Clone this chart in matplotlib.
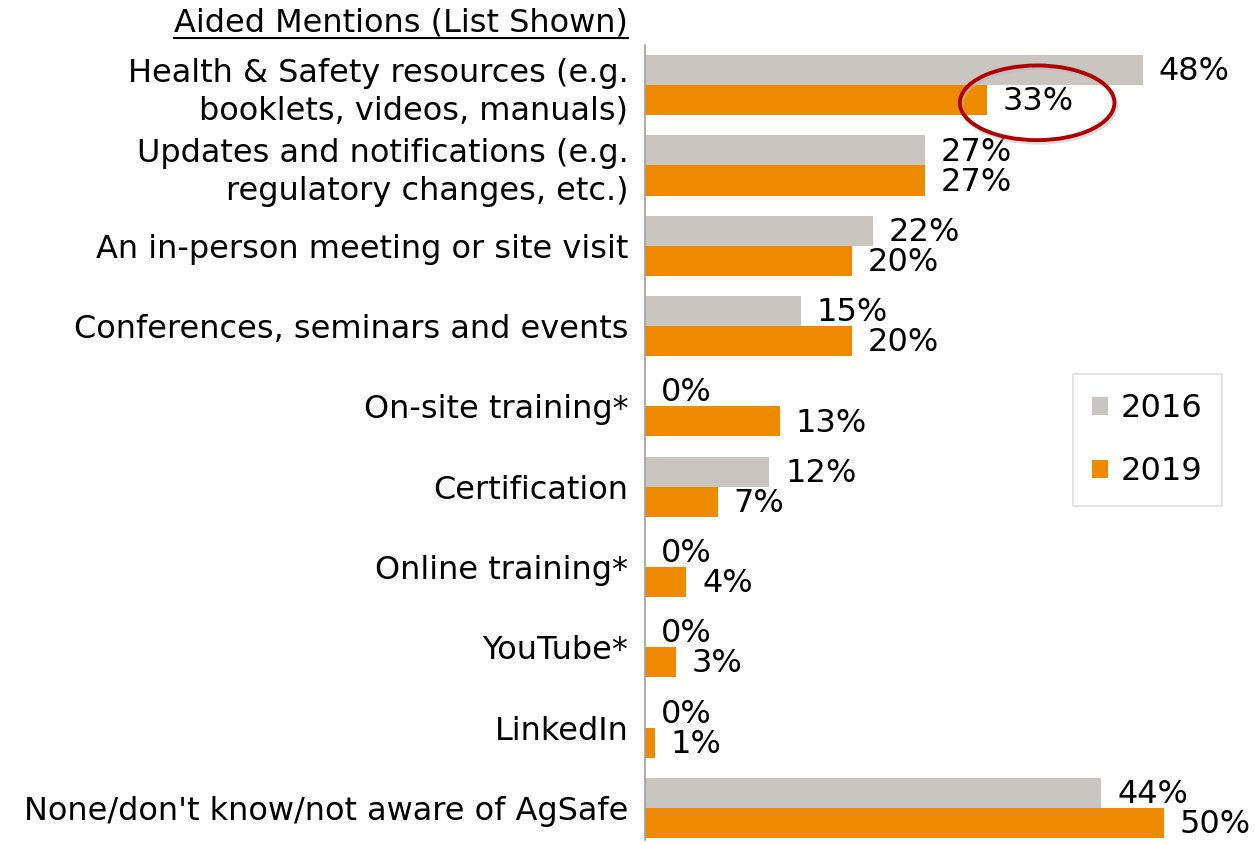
import numpy as np
import matplotlib.pyplot as plt
from matplotlib.patches import Ellipse
from matplotlib.lines import Line2D

plt.rcParams['font.family'] = ['DejaVu Sans']

# data
categories = [
    "Health & Safety resources (e.g.\nbooklets, videos, manuals)",
    "Updates and notifications (e.g.\nregulatory changes, etc.)",
    "An in-person meeting or site visit",
    "Conferences, seminars and events",
    "On-site training*",
    "Certification",
    "Online training*",
    "YouTube*",
    "LinkedIn",
    "None/don't know/not aware of AgSafe",
]
values_2016 = [48, 27, 22, 15, 0, 12, 0, 0, 0, 44]
values_2019 = [33, 27, 20, 20, 13, 7, 4, 3, 1, 50]
series_names = ["2016", "2019"]

gray = "#C9C5C1"
orange = "#EE8A00"
fs = 23

fig = plt.figure(figsize=(12.55, 8.43), dpi=100)
ax = fig.add_axes([645 / 1255, 3 / 843, 610 / 1255, 795 / 843])

y = np.arange(len(categories))
h = 0.375
ax.barh(y - h / 2, values_2016, height=h, color=gray, label=series_names[0])
ax.barh(y + h / 2, values_2019, height=h, color=orange, label=series_names[1])

for i in range(len(categories)):
    ax.text(values_2016[i] + 1.5, y[i] - h / 2 + 0.02, f"{values_2016[i]}%",
            va="center", ha="left", fontsize=fs)
    ax.text(values_2019[i] + 1.5, y[i] + h / 2 + 0.02, f"{values_2019[i]}%",
            va="center", ha="left", fontsize=fs)

ax.set_xlim(0, 58.8)
ax.set_ylim(9.4, -0.5)
ax.set_yticks(y)
ax.set_yticklabels(categories, fontsize=fs, linespacing=1.3)
ax.tick_params(axis="y", length=0, pad=12)
ax.set_xticks([])
for s in ["top", "right", "bottom"]:
    ax.spines[s].set_visible(False)
ax.spines["left"].set_color("#A0A0A0")
ax.spines["left"].set_linewidth(1.2)

# highlight circle with a soft shadow
shadow = Ellipse((37.95, 0.25), 14.9, 0.93, fill=False, edgecolor="#BBBBBB",
                 linewidth=3, alpha=0.5, clip_on=False, zorder=4)
ax.add_patch(shadow)
ell = Ellipse((37.8, 0.22), 14.9, 0.93, fill=False, edgecolor="#B00000",
              linewidth=2.8, clip_on=False, zorder=5)
ax.add_patch(ell)

leg = ax.legend(loc="center left", bbox_to_anchor=(0.675, 0.503), fontsize=fs,
                frameon=True, fancybox=False, edgecolor="#D9D9D9",
                handlelength=0.5, handleheight=0.5, handletextpad=0.4,
                labelspacing=1.0, borderpad=0.6)
leg.get_frame().set_linewidth(1.2)

# title with underline
title = fig.text(628 / 1255, 1 - 23 / 843, "Aided Mentions (List Shown)",
                 ha="right", va="center", fontsize=fs)
fig.canvas.draw()
bb = title.get_window_extent().transformed(fig.transFigure.inverted())
fig.add_artist(Line2D([bb.x0, bb.x1], [bb.y0 + 0.001, bb.y0 + 0.001],
                      color="black", linewidth=1.5, transform=fig.transFigure))

fig.savefig("out.png", dpi=100)
